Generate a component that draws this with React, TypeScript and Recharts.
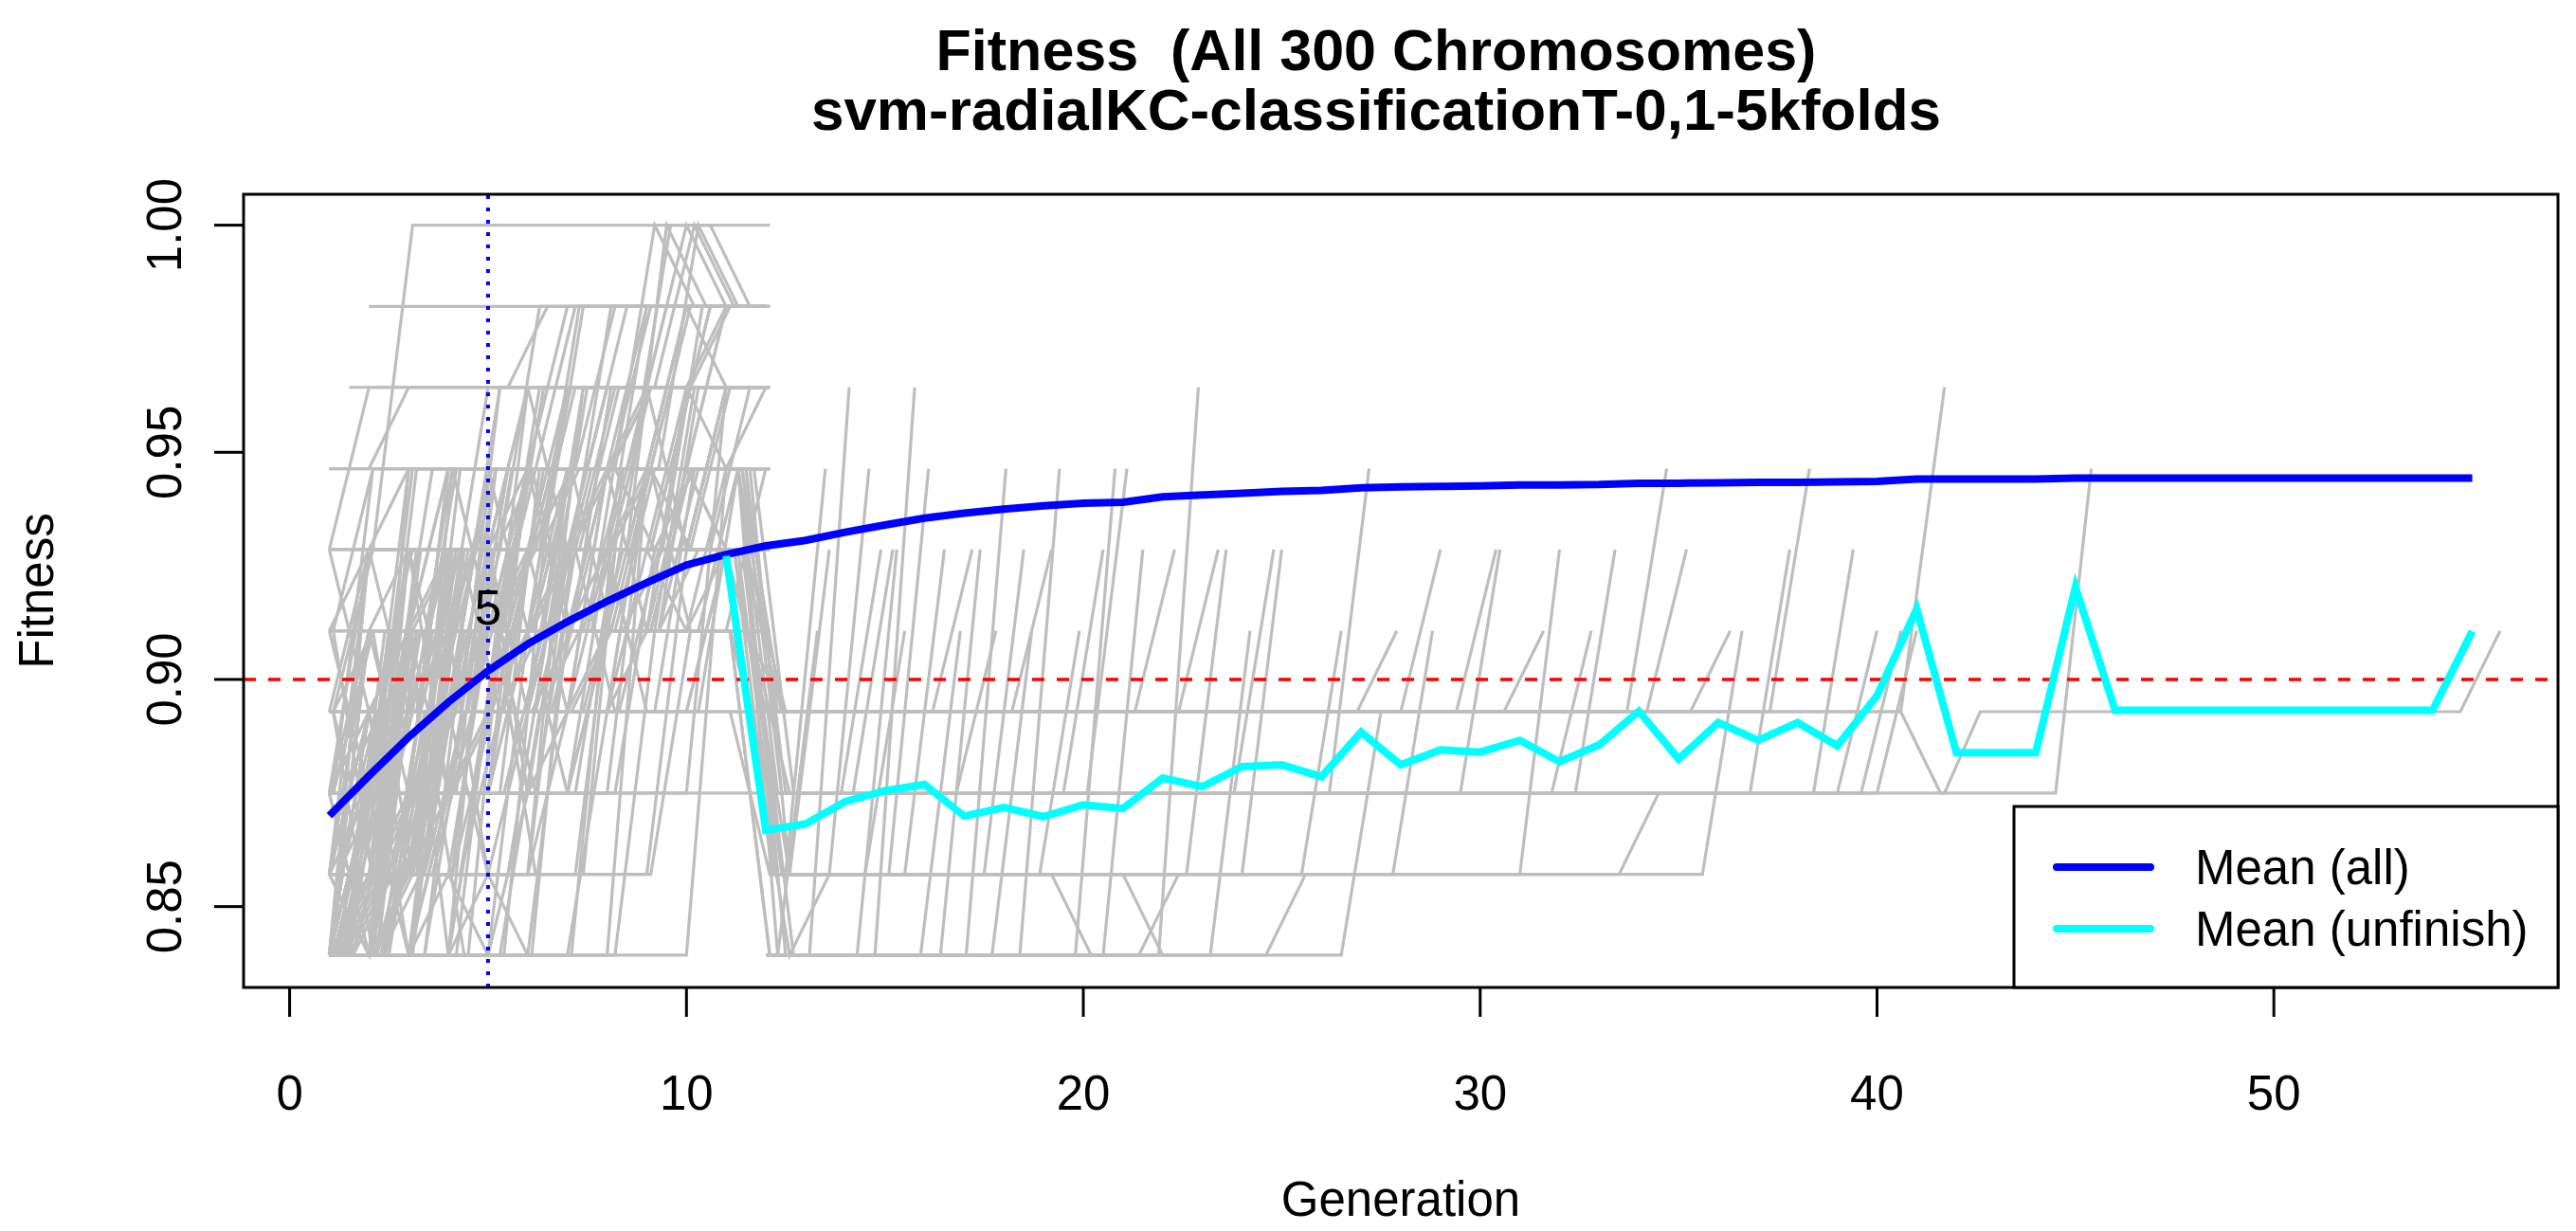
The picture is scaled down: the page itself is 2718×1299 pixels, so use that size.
import React from 'react';
import { LineChart, Line, XAxis, YAxis, ReferenceLine, ReferenceDot } from 'recharts';

const W = 2718;
const H = 1299;
const PLOT = { left: 257, right: 2699, top: 205, bottom: 1042 };
const AXIS_SPACE = 60;
const FONT = '"Liberation Sans", Arial, Helvetica, sans-serif';

// fitness levels the chromosomes jump between (k/56)
const LEVELS = [0.8393, 0.8571, 0.875, 0.8929, 0.9107, 0.9286, 0.9464, 0.9643, 0.9821, 1.0];

const X_TICKS = [0, 10, 20, 30, 40, 50];
const Y_TICKS = [0.85, 0.9, 0.95, 1.0];
const X_DOMAIN = [-1.16, 57.16];
const Y_DOMAIN = [0.8322, 1.0068];

// mean over all chromosomes, generations 1..55
const MEAN_ALL = [
  0.87, 0.8788, 0.8873, 0.895, 0.9019, 0.9078, 0.9127, 0.9172, 0.9213, 0.9252,
  0.9275, 0.9294, 0.9306, 0.9324, 0.934, 0.9355, 0.9366, 0.9375, 0.9382, 0.9388,
  0.939, 0.9402, 0.9406, 0.941, 0.9414, 0.9416, 0.9422, 0.9424, 0.9425, 0.9426,
  0.9428, 0.9428, 0.9429, 0.9432, 0.9432, 0.9433, 0.9434, 0.9434, 0.9435, 0.9436,
  0.9441, 0.9441, 0.9441, 0.9441, 0.9443, 0.9443, 0.9443, 0.9443, 0.9443, 0.9443,
  0.9443, 0.9443, 0.9443, 0.9443, 0.9443,
];

// mean over unfinished chromosomes, generations 11..55
const MEAN_UNFINISH = [
  0.9272, 0.8668, 0.8682, 0.8731, 0.8755, 0.8769, 0.8699, 0.8718, 0.8698, 0.8724,
  0.8716, 0.8783, 0.8764, 0.8808, 0.8812, 0.8786, 0.8884, 0.8812, 0.8845, 0.884,
  0.8866, 0.8819, 0.8856, 0.893, 0.8825, 0.8905, 0.8866, 0.8905, 0.8854, 0.8964,
  0.9155, 0.8839, 0.8839, 0.8839, 0.9203, 0.8932, 0.8932, 0.8932, 0.8932, 0.8932,
  0.8932, 0.8932, 0.8932, 0.8932, 0.9106,
];

// early chromosome paths: first generation + level index per generation
const EARLY = [
  { x0: 1.0, lv: [0, 0, 0, 2, 3, 3, 5, 5, 6, 6, 6, 6] },
  { x0: 1.0, lv: [0, 1, 3, 3, 4, 6, 6, 6, 7, 7, 7, 7] },
  { x0: 1.1, lv: [0, 2, 2, 2, 3, 5, 5, 6, 6, 8, 8, 8] },
  { x0: 1.0, lv: [1, 1, 3, 4, 4, 4, 5, 7, 7, 7, 6, 6] },
  { x0: 1.2, lv: [0, 3, 3, 5, 5, 6, 6, 6, 6, 6, 6] },
  { x0: 1.0, lv: [2, 2, 2, 4, 4, 5, 5, 5, 5, 5, 7, 7] },
  { x0: 1.1, lv: [0, 0, 4, 4, 4, 5, 6, 6, 8, 8, 8, 8] },
  { x0: 1.0, lv: [1, 2, 4, 5, 5, 5, 5, 6, 6, 6, 5, 5] },
  { x0: 1.3, lv: [0, 1, 1, 1, 3, 3, 4, 4, 4, 6, 6] },
  { x0: 1.0, lv: [3, 3, 3, 3, 5, 5, 7, 7, 7, 7, 7, 7] },
  { x0: 1.0, lv: [0, 2, 3, 3, 3, 3, 3, 4, 4, 4, 4, 4] },
  { x0: 1.2, lv: [1, 1, 2, 5, 5, 5, 5, 5, 5, 6, 6] },
  { x0: 1.0, lv: [0, 0, 1, 3, 4, 4, 4, 6, 6, 6, 6, 7] },
  { x0: 1.1, lv: [2, 4, 4, 4, 4, 6, 6, 6, 6, 5, 5, 5] },
  { x0: 1.0, lv: [0, 3, 3, 3, 3, 3, 5, 5, 5, 5, 5, 5] },
  { x0: 1.0, lv: [4, 4, 4, 6, 6, 6, 6, 6, 6, 6, 6, 6] },
  { x0: 1.4, lv: [0, 0, 2, 2, 2, 4, 4, 4, 5, 5, 5] },
  { x0: 1.0, lv: [1, 3, 3, 5, 5, 7, 7, 7, 7, 7, 7, 7] },
  { x0: 1.1, lv: [0, 1, 2, 2, 4, 4, 5, 5, 5, 5, 5, 5] },
  { x0: 1.0, lv: [5, 5, 5, 5, 5, 5, 5, 5, 7, 7, 7, 7] },
  { x0: 1.0, lv: [2, 2, 3, 3, 4, 4, 6, 6, 6, 6, 6, 6] },
  { x0: 1.2, lv: [0, 2, 2, 4, 4, 4, 4, 4, 6, 6, 6] },
  { x0: 1.0, lv: [6, 6, 6, 6, 6, 6, 6, 6, 6, 8, 8, 8] },
  { x0: 1.1, lv: [1, 1, 1, 3, 3, 5, 5, 5, 6, 6, 6, 6] },
  { x0: 1.0, lv: [0, 0, 3, 3, 3, 5, 5, 5, 5, 7, 7, 7] },
  { x0: 1.3, lv: [3, 3, 3, 5, 5, 5, 6, 6, 6, 6, 6] },
  { x0: 1.5, lv: [7, 7, 7, 7, 7, 8, 8, 8, 8, 8, 8] },
  { x0: 1.0, lv: [1, 2, 2, 2, 2, 4, 4, 4, 4, 4, 5, 5] },
  { x0: 1.1, lv: [0, 1, 1, 4, 4, 4, 6, 6, 7, 7, 8, 8] },
  { x0: 2.0, lv: [8, 8, 8, 8, 8, 8, 8, 8, 8, 8, 8] },
  { x0: 2.1, lv: [5, 9, 9, 9, 9, 9, 9, 9, 9, 9, 9] },
  { x0: 1.0, lv: [4, 4, 5, 5, 5, 7, 7, 7, 7, 7, 7, 7] },
  { x0: 1.2, lv: [2, 2, 4, 4, 6, 6, 6, 6, 6, 6, 6] },
  { x0: 1.0, lv: [0, 2, 4, 4, 4, 4, 4, 5, 5, 5, 7, 7] },
  { x0: 1.1, lv: [3, 5, 5, 5, 5, 5, 5, 8, 8, 8, 8, 8] },
  { x0: 1.0, lv: [1, 1, 3, 3, 6, 6, 6, 6, 6, 6, 5, 5] },
  { x0: 1.0, lv: [0, 0, 0, 0, 3, 3, 3, 5, 5, 5, 5, 5] },
  { x0: 1.3, lv: [2, 3, 3, 3, 3, 4, 4, 4, 4, 4, 6] },
  { x0: 1.0, lv: [6, 6, 7, 7, 7, 7, 7, 7, 7, 9, 8, 8] },
  { x0: 1.0, lv: [0, 1, 1, 1, 1, 3, 3, 3, 5, 5, 5, 5] },
  { x0: 1.1, lv: [4, 6, 6, 6, 6, 6, 6, 6, 7, 7, 7, 7] },
  { x0: 1.0, lv: [2, 2, 2, 2, 5, 5, 5, 5, 5, 5, 5, 5] },
  { x0: 1.2, lv: [0, 0, 2, 2, 2, 2, 5, 5, 5, 6, 6] },
  { x0: 1.0, lv: [1, 4, 4, 4, 4, 4, 4, 4, 4, 4, 4, 4] },
  { x0: 1.0, lv: [3, 3, 4, 4, 4, 6, 6, 6, 8, 8, 7, 7] },
  { x0: 1.1, lv: [0, 1, 3, 3, 3, 3, 4, 4, 6, 6, 6, 6] },
  { x0: 1.0, lv: [5, 5, 6, 6, 6, 6, 6, 6, 6, 6, 8, 8] },
  { x0: 1.0, lv: [2, 2, 3, 5, 5, 5, 5, 5, 5, 5, 5, 5] },
  { x0: 1.3, lv: [0, 0, 1, 1, 4, 4, 4, 4, 4, 5, 5] },
  { x0: 1.0, lv: [1, 3, 3, 3, 3, 6, 6, 6, 6, 6, 6, 6] },
  { x0: 1.0, lv: [0, 2, 2, 2, 2, 2, 3, 3, 3, 3, 3, 3] },
  { x0: 1.1, lv: [2, 4, 4, 5, 5, 5, 7, 7, 7, 7, 7, 7] },
  { x0: 1.0, lv: [0, 0, 2, 4, 4, 4, 4, 4, 4, 4, 4, 6] },
  { x0: 1.2, lv: [4, 4, 4, 4, 4, 5, 5, 5, 5, 5, 5] },
  { x0: 1.0, lv: [1, 1, 2, 2, 2, 4, 4, 6, 6, 6, 6, 6] },
  { x0: 1.0, lv: [0, 3, 3, 3, 3, 4, 4, 4, 4, 6, 6, 6] },
  { x0: 1.1, lv: [3, 3, 5, 5, 5, 5, 5, 5, 5, 7, 7, 7] },
  { x0: 1.0, lv: [0, 0, 0, 1, 1, 1, 3, 3, 4, 4, 4, 4] },
  { x0: 1.0, lv: [2, 3, 3, 3, 6, 6, 6, 6, 6, 6, 6, 6] },
  { x0: 1.4, lv: [1, 1, 1, 3, 3, 3, 3, 5, 5, 5, 5] },
  { x0: 1.0, lv: [5, 7, 7, 7, 7, 7, 7, 7, 7, 7, 8, 8] },
  { x0: 1.0, lv: [0, 1, 1, 2, 2, 2, 2, 4, 4, 4, 4, 4] },
  { x0: 1.1, lv: [3, 4, 4, 4, 6, 6, 6, 6, 6, 6, 6, 6] },
  { x0: 1.0, lv: [0, 0, 2, 2, 3, 3, 3, 3, 3, 3, 5, 5] },
  { x0: 1.0, lv: [2, 5, 5, 5, 5, 5, 5, 5, 5, 5, 5, 5] },
  { x0: 1.2, lv: [1, 2, 2, 3, 3, 3, 5, 5, 5, 5, 5] },
  { x0: 1.0, lv: [0, 2, 5, 5, 5, 6, 6, 6, 6, 6, 6, 6] },
  { x0: 1.0, lv: [4, 5, 5, 5, 5, 5, 5, 7, 7, 7, 7, 7] },
  { x0: 1.1, lv: [0, 0, 1, 1, 3, 3, 3, 4, 4, 4, 4, 4] },
  { x0: 1.0, lv: [1, 3, 4, 4, 4, 4, 4, 4, 4, 4, 4, 4] },
  { x0: 1.0, lv: [3, 3, 3, 4, 4, 4, 4, 4, 6, 6, 6, 6] },
  { x0: 1.3, lv: [0, 1, 4, 4, 4, 4, 4, 4, 4, 7, 7] },
  { x0: 1.0, lv: [0, 4, 4, 6, 6, 6, 8, 8, 8, 8, 8, 8] },
  { x0: 1.0, lv: [0, 0, 5, 5, 5, 5, 5, 5, 3, 3, 5, 5] },
  { x0: 1.1, lv: [1, 1, 1, 6, 6, 6, 6, 4, 4, 6, 6, 6] },
  { x0: 1.0, lv: [0, 3, 1, 1, 4, 4, 7, 7, 7, 5, 5, 5] },
  { x0: 1.0, lv: [2, 0, 0, 3, 3, 3, 6, 6, 6, 6, 6, 6] },
  { x0: 1.2, lv: [0, 0, 0, 0, 4, 2, 2, 5, 5, 5, 5] },
  { x0: 1.0, lv: [1, 5, 5, 3, 3, 3, 3, 6, 6, 6, 6, 6] },
  { x0: 1.0, lv: [0, 0, 6, 6, 6, 6, 4, 4, 7, 7, 7, 7] },
  { x0: 1.1, lv: [3, 1, 1, 5, 5, 5, 5, 5, 7, 7, 7, 7] },
  { x0: 1.0, lv: [0, 2, 0, 0, 5, 5, 5, 5, 5, 4, 4, 4] },
  { x0: 1.0, lv: [4, 2, 2, 6, 6, 6, 6, 6, 6, 6, 8, 8] },
  { x0: 1.3, lv: [0, 0, 3, 3, 7, 7, 7, 7, 7, 7, 7] },
  { x0: 1.0, lv: [1, 0, 0, 2, 2, 6, 6, 6, 6, 6, 6, 6] },
  { x0: 1.0, lv: [0, 4, 4, 2, 2, 2, 5, 5, 5, 5, 5, 5] },
  { x0: 1.1, lv: [2, 2, 6, 6, 4, 4, 4, 7, 7, 7, 7, 7] },
  { x0: 1.0, lv: [0, 1, 1, 5, 5, 3, 3, 3, 6, 6, 6, 6] },
  { x0: 1.0, lv: [5, 3, 3, 3, 6, 6, 6, 6, 6, 8, 8, 8] },
  { x0: 1.2, lv: [0, 0, 4, 4, 4, 1, 1, 5, 5, 5, 5] },
  { x0: 1.0, lv: [1, 4, 2, 2, 2, 5, 5, 5, 5, 5, 5, 5] },
  { x0: 1.0, lv: [0, 0, 1, 5, 5, 5, 3, 3, 6, 6, 6, 6] },
  { x0: 1.1, lv: [3, 0, 0, 4, 4, 4, 6, 6, 6, 6, 6, 6] },
  { x0: 1.0, lv: [0, 5, 5, 5, 5, 2, 2, 4, 4, 7, 7, 7] },
  { x0: 1.0, lv: [2, 2, 5, 3, 3, 3, 3, 6, 6, 6, 6, 6] },
  { x0: 1.4, lv: [0, 3, 3, 0, 0, 5, 5, 5, 5, 5, 5] },
  { x0: 1.0, lv: [1, 1, 4, 4, 7, 7, 5, 5, 5, 5, 5, 5] },
  { x0: 1.0, lv: [0, 2, 2, 6, 6, 6, 6, 6, 4, 4, 6, 6] },
  { x0: 1.1, lv: [4, 1, 1, 1, 5, 5, 5, 5, 5, 7, 7, 7] },
  { x0: 1.0, lv: [0, 0, 3, 3, 6, 4, 4, 4, 4, 4, 4, 4] },
  { x0: 1.0, lv: [3, 5, 5, 2, 2, 6, 6, 6, 6, 6, 6, 6] },
  { x0: 1.2, lv: [0, 1, 5, 5, 5, 5, 5, 3, 3, 6, 6] },
  { x0: 1.0, lv: [1, 0, 4, 4, 4, 4, 7, 7, 7, 7, 7, 7] },
  { x0: 1.0, lv: [0, 3, 3, 3, 1, 1, 5, 5, 5, 5, 5, 5] },
  { x0: 1.1, lv: [2, 6, 6, 6, 6, 6, 4, 4, 4, 6, 6, 6] },
  { x0: 1.0, lv: [0, 0, 2, 2, 5, 5, 5, 5, 8, 8, 8, 8] },
  { x0: 1.0, lv: [1, 4, 4, 0, 0, 4, 4, 6, 6, 6, 6, 6] },
  { x0: 1.3, lv: [0, 2, 5, 5, 3, 3, 3, 3, 5, 5, 5] },
  { x0: 1.0, lv: [3, 3, 0, 0, 3, 3, 6, 6, 6, 6, 6, 6] },
  { x0: 1.0, lv: [0, 5, 3, 3, 3, 5, 5, 5, 5, 5, 7, 7] },
  { x0: 1.1, lv: [1, 1, 3, 6, 6, 6, 6, 6, 6, 4, 4, 4] },
  { x0: 1.0, lv: [0, 0, 0, 4, 4, 6, 6, 6, 6, 6, 6, 6] },
  { x0: 1.0, lv: [2, 4, 4, 4, 1, 1, 6, 6, 6, 6, 6, 6] },
  { x0: 1.2, lv: [0, 3, 3, 6, 6, 6, 6, 6, 5, 5, 5] },
  { x0: 1.0, lv: [1, 1, 5, 5, 5, 2, 2, 5, 5, 5, 7, 7] },
  { x0: 1.0, lv: [0, 2, 6, 6, 6, 6, 6, 6, 6, 6, 6, 6] },
  { x0: 1.1, lv: [4, 4, 1, 1, 5, 5, 5, 5, 5, 5, 5, 5] },
  { x0: 1.0, lv: [0, 1, 1, 3, 3, 7, 7, 7, 7, 7, 7, 7] },
  { x0: 1.0, lv: [2, 0, 3, 3, 3, 3, 5, 5, 5, 5, 5, 5] },
  { x0: 1.0, lv: [0, 4, 4, 4, 4, 4, 2, 2, 6, 6, 6, 6] },
  { x0: 1.5, lv: [0, 0, 3, 3, 6, 6, 6, 8, 8, 8, 8] },
  { x0: 1.2, lv: [1, 1, 1, 5, 5, 5, 7, 7, 7, 9, 8] },
  { x0: 1.6, lv: [0, 2, 2, 2, 5, 5, 5, 5, 7, 7, 7] },
  { x0: 1.4, lv: [0, 0, 0, 4, 4, 7, 7, 7, 7, 7, 7] },
  { x0: 1.3, lv: [2, 2, 5, 5, 5, 5, 8, 8, 8, 8, 8] },
  { x0: 1.5, lv: [0, 1, 1, 1, 1, 4, 4, 7, 7, 7, 7] },
  { x0: 1.2, lv: [0, 0, 4, 4, 4, 6, 6, 6, 9, 8, 8] },
  { x0: 1.6, lv: [1, 1, 3, 3, 6, 6, 6, 6, 6, 8, 8] },
  { x0: 1.4, lv: [0, 4, 4, 4, 4, 4, 7, 7, 7, 7, 7] },
  { x0: 1.3, lv: [0, 0, 2, 2, 2, 6, 6, 6, 6, 6, 6] },
  { x0: 1.5, lv: [2, 2, 2, 5, 5, 7, 7, 7, 7, 7, 7] },
  { x0: 1.2, lv: [0, 3, 3, 3, 6, 6, 6, 8, 8, 8, 8] },
  { x0: 1.6, lv: [1, 1, 4, 4, 4, 4, 4, 6, 6, 6, 6] },
  { x0: 1.4, lv: [0, 0, 0, 3, 3, 3, 7, 7, 7, 7, 7] },
  { x0: 1.3, lv: [0, 2, 2, 6, 6, 6, 6, 6, 6, 9, 8] },
  { x0: 1.5, lv: [3, 3, 3, 3, 6, 6, 6, 6, 8, 8, 8] },
  { x0: 1.2, lv: [0, 0, 5, 5, 5, 5, 5, 7, 7, 7, 7] },
  { x0: 1.6, lv: [1, 4, 4, 4, 4, 6, 6, 6, 6, 6, 6] },
  { x0: 1.4, lv: [0, 1, 1, 5, 5, 5, 8, 8, 8, 8, 8] },
  { x0: 1.3, lv: [2, 2, 4, 4, 7, 7, 7, 7, 7, 7, 7] },
  { x0: 1.5, lv: [0, 0, 0, 0, 5, 5, 5, 5, 7, 7, 7] },
  { x0: 1.2, lv: [1, 3, 3, 6, 6, 6, 6, 6, 6, 6, 6] },
  { x0: 1.6, lv: [0, 2, 2, 4, 4, 4, 6, 6, 9, 9, 8] },
  { x0: 1.4, lv: [0, 0, 3, 3, 3, 6, 6, 6, 6, 6, 6] },
  { x0: 1.3, lv: [1, 1, 1, 4, 4, 7, 7, 7, 7, 7, 7] },
  { x0: 1.5, lv: [0, 4, 4, 4, 6, 6, 6, 6, 6, 6, 6] },
  { x0: 1.2, lv: [2, 2, 6, 6, 6, 6, 8, 8, 8, 8, 8] },
  { x0: 1.6, lv: [0, 1, 1, 3, 3, 3, 5, 5, 5, 5, 7] },
  { x0: 1.4, lv: [0, 0, 2, 5, 5, 5, 5, 5, 5, 8, 8] },
  { x0: 1.3, lv: [1, 3, 3, 3, 5, 5, 5, 7, 7, 7, 7] },
  { x0: 1.5, lv: [0, 0, 4, 4, 4, 4, 7, 7, 7, 7, 7] },
  { x0: 1.2, lv: [0, 2, 2, 2, 6, 6, 6, 6, 6, 6, 6] },
  { x0: 1.6, lv: [3, 3, 6, 6, 6, 6, 6, 6, 6, 8, 8] },
  { x0: 1.4, lv: [0, 1, 1, 4, 4, 4, 4, 6, 6, 6, 6] },
  { x0: 1.3, lv: [1, 1, 5, 5, 5, 8, 8, 8, 8, 8, 8] },
  { x0: 1.5, lv: [0, 3, 3, 3, 3, 5, 5, 5, 9, 8, 8] },
  { x0: 1.0, lv: [0, 0, 0, 0, 0, 0, 4, 4, 4, 6, 6, 6] },
  { x0: 1.1, lv: [0, 0, 0, 0, 0, 0, 0, 5, 5, 5, 7, 7] },
  { x0: 1.0, lv: [1, 1, 1, 1, 1, 0, 0, 0, 6, 6, 6, 6] },
  { x0: 1.2, lv: [0, 0, 0, 0, 0, 0, 0, 0, 4, 7, 7] },
  { x0: 1.0, lv: [0, 0, 0, 0, 1, 1, 1, 1, 1, 5, 5, 5] },
  { x0: 1.3, lv: [0, 0, 0, 0, 0, 3, 3, 3, 3, 3, 6] },
  { x0: 1.0, lv: [1, 1, 1, 1, 0, 0, 0, 0, 0, 0, 6, 6] },
  { x0: 1.1, lv: [0, 0, 0, 0, 0, 0, 5, 5, 5, 5, 5, 5] },
  { x0: 1.0, lv: [0, 0, 0, 2, 2, 2, 2, 2, 2, 2, 7, 7] },
  { x0: 1.4, lv: [1, 1, 1, 1, 1, 1, 1, 6, 6, 6, 6] },
  { x0: 1.0, lv: [0, 0, 0, 0, 0, 0, 0, 3, 3, 3, 3, 3] },
  { x0: 1.2, lv: [2, 2, 2, 2, 2, 2, 2, 2, 5, 5, 5] },
  { x0: 1.0, lv: [0, 0, 0, 0, 0, 2, 2, 2, 2, 2, 2, 2] },
  { x0: 1.1, lv: [1, 1, 1, 1, 1, 1, 1, 1, 1, 4, 4, 4] },
];

// chromosomes still unfinished after generation 12: [generation, level index]
const LATE = [
  [[11.1, 4], [12.1, 0], [13.1, 0], [14.1, 7]],
  [[12.5, 1], [13.5, 6]],
  [[11.6, 3], [12.6, 0], [13.6, 1], [14.6, 6]],
  [[12.2, 2], [13.9, 2], [14.9, 5]],
  [[11.7, 4], [12.7, 0], [14.75, 0], [15.75, 7]],
  [[12.1, 1], [15.1, 1], [16.1, 6]],
  [[11.3, 6], [12.3, 0], [14.3, 0], [15.3, 5]],
  [[12.4, 1], [15.5, 1], [16.5, 5]],
  [[11.0, 5], [12.0, 3], [16.2, 3], [17.2, 5]],
  [[12.5, 0], [17.05, 0], [18.05, 6]],
  [[11.3, 6], [12.3, 2], [16.8, 2], [17.8, 4]],
  [[12.2, 0], [18.4, 0], [19.4, 6]],
  [[11.6, 4], [12.6, 1], [17.5, 1], [18.5, 5]],
  [[12.1, 0], [19.8, 0], [20.8, 6]],
  [[11.4, 6], [12.4, 2], [20.1, 2], [21.1, 6]],
  [[12.0, 0], [21.9, 0], [22.9, 7]],
  [[11.2, 4], [12.2, 1], [18.9, 1], [19.9, 4]],
  [[12.5, 0], [20.5, 0], [21.5, 5]],
  [[11.3, 6], [12.3, 3], [22.4, 3], [23.4, 5]],
  [[12.1, 0], [23.2, 0], [24.2, 4]],
  [[11.4, 5], [12.4, 1], [24.0, 1], [25.0, 5]],
  [[12.6, 2], [26.2, 2], [27.2, 6]],
  [[11.2, 5], [12.2, 1], [25.5, 1], [26.5, 4]],
  [[12.0, 0], [24.6, 0], [25.6, 1], [33.5, 1], [34.5, 2], [40.0, 2], [41.0, 4]],
  [[11.3, 6], [12.3, 1], [27.8, 1], [28.8, 4]],
  [[12.5, 2], [29.5, 2], [30.5, 5]],
  [[11.1, 3], [12.1, 1], [31.0, 1], [32.0, 5]],
  [[12.4, 3], [30.6, 3], [31.6, 4]],
  [[11.2, 5], [12.2, 2], [32.4, 2], [33.4, 5]],
  [[12.7, 3], [33.7, 3], [34.7, 6]],
  [[11.3, 5], [12.3, 1], [35.6, 1], [36.6, 4]],
  [[12.2, 2], [36.8, 2], [37.8, 5]],
  [[11.5, 4], [12.5, 3], [37.3, 3], [38.3, 6]],
  [[12.1, 2], [39.0, 2], [40.0, 4]],
  [[11.4, 6], [12.4, 3], [40.6, 3], [41.7, 7]],
  [[12.2, 3], [40.6, 3], [41.6, 2], [44.5, 2], [45.4, 6]],
  [[11.6, 4], [12.6, 2], [41.7, 2], [42.6, 3], [54.7, 3], [55.7, 4]],
  [[12.3, 2], [39.6, 2], [40.6, 4]],
  [[11.5, 5], [12.5, 3], [35.3, 3], [36.3, 4]],
  [[12.3, 0], [13.3, 4]],
  [[11.6, 6], [12.6, 1], [13.6, 5]],
  [[12.4, 2], [14.2, 2], [15.2, 5]],
  [[11.1, 4], [12.1, 0], [15.9, 0], [16.9, 4]],
  [[12.2, 1], [14.5, 1], [15.5, 4]],
  [[11.5, 5], [12.5, 0], [16.4, 0], [17.4, 5]],
  [[12.3, 3], [18.2, 3], [19.2, 5]],
  [[11.7, 6], [12.7, 2], [19.5, 2], [20.5, 5]],
  [[12.2, 0], [17.7, 0], [18.7, 4]],
  [[11.4, 6], [12.4, 3], [21.3, 3], [22.3, 5]],
  [[12.6, 1], [19.2, 1], [20.2, 0], [21.4, 0], [22.4, 1], [22.6, 1], [23.6, 5]],
  [[11.1, 4], [12.1, 2], [23.8, 2], [24.8, 5]],
  [[12.3, 3], [28.0, 3], [29.0, 5]],
  [[11.5, 6], [12.5, 2], [31.8, 2], [32.8, 4]],
  [[12.2, 3], [26.9, 3], [27.9, 4]],
  [[11.4, 5], [12.4, 3], [34.2, 3], [35.2, 5]],
  [[12.6, 2], [38.4, 2], [39.4, 5]],
  [[11.3, 4], [12.3, 1], [21.0, 1], [22.0, 0], [26.5, 0], [27.5, 3], [29.4, 3], [30.4, 5]],
];

const grayPaths = [
  ...EARLY.map((t) => t.lv.map((l, i) => ({ x: t.x0 + i, y: LEVELS[l] }))),
  ...LATE.map((t) => t.map(([g, l]) => ({ x: g, y: LEVELS[l] }))),
];
const meanAllData = MEAN_ALL.map((v, i) => ({ x: i + 1, y: v }));
const meanUnfinishData = MEAN_UNFINISH.map((v, i) => ({ x: i + 11, y: v }));

function XTick({ x, payload }: any) {
  return (
    <text x={x} y={1171} textAnchor="middle" fontSize={51} fontFamily={FONT} fill="#000">
      {payload.value}
    </text>
  );
}

function YTick({ y, payload }: any) {
  return (
    <text
      x={191}
      y={y}
      transform={`rotate(-90, 191, ${y})`}
      textAnchor="middle"
      fontSize={51}
      fontFamily={FONT}
      fill="#000"
    >
      {Number(payload.value).toFixed(2)}
    </text>
  );
}

export default function App() {
  const midX = (PLOT.left + PLOT.right) / 2;
  const midY = (PLOT.top + PLOT.bottom) / 2;
  const titleX = 1452;
  return (
    <div style={{ position: 'relative', width: W, height: H, background: '#fff' }}>
      <style>{'body{margin:0}'}</style>
      <LineChart
        width={W}
        height={H}
        margin={{
          top: PLOT.top,
          right: W - PLOT.right,
          bottom: H - PLOT.bottom - AXIS_SPACE,
          left: PLOT.left - AXIS_SPACE,
        }}
        style={{ position: 'absolute', left: 0, top: 0 }}
      >
        <XAxis
          type="number"
          dataKey="x"
          domain={X_DOMAIN}
          allowDataOverflow
          ticks={X_TICKS}
          interval={0}
          height={AXIS_SPACE}
          axisLine={false}
          tickSize={31}
          tickLine={{ stroke: '#000', strokeWidth: 3 }}
          tick={<XTick />}
        />
        <YAxis
          type="number"
          domain={Y_DOMAIN}
          allowDataOverflow
          ticks={Y_TICKS}
          interval={0}
          width={AXIS_SPACE}
          axisLine={false}
          tickSize={31}
          tickLine={{ stroke: '#000', strokeWidth: 3 }}
          tick={<YTick />}
        />
        {grayPaths.map((d, i) => (
          <Line
            key={`g${i}`}
            data={d}
            dataKey="y"
            stroke="#bebebe"
            strokeWidth={3.2}
            dot={false}
            activeDot={false}
            isAnimationActive={false}
          />
        ))}
        <ReferenceLine y={0.9} stroke="#ff0000" strokeWidth={3.5} strokeDasharray="13 13" />
        <ReferenceLine x={5} stroke="#0000ff" strokeWidth={4} strokeDasharray="4 9" />
        <ReferenceDot
          x={5}
          y={0.9158}
          r={0}
          stroke="none"
          label={{ value: '5', position: 'center', fontSize: 51, fill: '#000', fontFamily: FONT }}
        />
        <Line
          data={meanAllData}
          dataKey="y"
          stroke="#0000ff"
          strokeWidth={8}
          dot={false}
          activeDot={false}
          isAnimationActive={false}
        />
        <Line
          data={meanUnfinishData}
          dataKey="y"
          stroke="#00ffff"
          strokeWidth={8}
          dot={false}
          activeDot={false}
          isAnimationActive={false}
        />
      </LineChart>
      <svg
        width={W}
        height={H}
        style={{ position: 'absolute', left: 0, top: 0, pointerEvents: 'none' }}
        fontFamily={FONT}
      >
        <rect
          x={PLOT.left}
          y={PLOT.top}
          width={PLOT.right - PLOT.left}
          height={PLOT.bottom - PLOT.top}
          fill="none"
          stroke="#000"
          strokeWidth={3}
        />
        <text x={titleX} y={74} textAnchor="middle" fontSize={61} fontWeight="bold" style={{ whiteSpace: 'pre' }}>
          {'Fitness  (All 300 Chromosomes)'}
        </text>
        <text x={titleX} y={137} textAnchor="middle" fontSize={62} fontWeight="bold">
          svm-radialKC-classificationT-0,1-5kfolds
        </text>
        <text x={midX} y={1283} textAnchor="middle" fontSize={51}>
          Generation
        </text>
        <text x={56} y={midY} textAnchor="middle" fontSize={51} transform={`rotate(-90, 56, ${midY})`}>
          Fitness
        </text>
        <g>
          <rect x={2125} y={851} width={PLOT.right - 2125} height={PLOT.bottom - 851} fill="#fff" stroke="#000" strokeWidth={3} />
          <line x1={2170} x2={2269} y1={915} y2={915} stroke="#0000ff" strokeWidth={8} strokeLinecap="round" />
          <line x1={2170} x2={2269} y1={980} y2={980} stroke="#00ffff" strokeWidth={8} strokeLinecap="round" />
          <text x={2316} y={933} fontSize={51}>Mean (all)</text>
          <text x={2316} y={998} fontSize={51}>Mean (unfinish)</text>
        </g>
      </svg>
    </div>
  );
}
